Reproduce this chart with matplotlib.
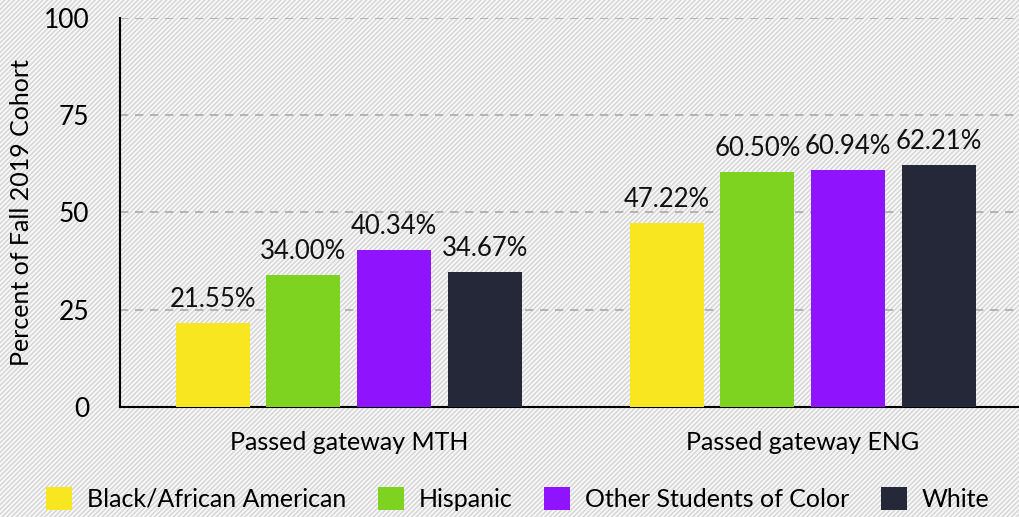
import matplotlib.pyplot as plt
import matplotlib.patches as mpatches
import numpy as np

plt.rcParams['font.family'] = ['Lato', 'DejaVu Sans']

groups = ['Passed gateway MTH', 'Passed gateway ENG']
series = ['Black/African American', 'Hispanic', 'Other Students of Color', 'White']
values = {
    'Black/African American': [21.55, 47.22],
    'Hispanic': [34.00, 60.50],
    'Other Students of Color': [40.34, 60.94],
    'White': [34.67, 62.21],
}
colors = ['#f8e620', '#7ed321', '#9013fe', '#252839']

fig = plt.figure(figsize=(10.19, 5.17), dpi=100)
fig.patch.set_facecolor('white')
plt.rcParams['hatch.color'] = '#d4d4d4'
plt.rcParams['hatch.linewidth'] = 1.0
bg = mpatches.Rectangle((0, 0), 1, 1, transform=fig.transFigure, facecolor='#f7f7f7',
                        edgecolor='#d4d4d4', hatch='///////', linewidth=0, zorder=-10)
fig.patches.append(bg)

ax = fig.add_axes([0.1178, 0.2128, 0.8822, 0.7524])
ax.set_facecolor('none')

x = np.arange(len(groups))
step = 0.2
width = 0.163
for i, s in enumerate(series):
    pos = x + (i - 1.5) * step
    bars = ax.bar(pos, values[s], width, color=colors[i], label=s, zorder=3)
    for b, v in zip(bars, values[s]):
        ax.text(b.get_x() + b.get_width() / 2, v + 2.8, f'{v:.2f}%',
                ha='center', va='bottom', fontsize=18.5, color='#111111', zorder=4)

ax.set_xlim(-0.504, 1.476)
ax.set_ylim(0, 100)
ax.set_yticks([0, 25, 50, 75, 100])
ax.set_xticks(x)
ax.set_xticklabels(groups, fontsize=18)
ax.tick_params(axis='y', labelsize=19, length=0, pad=22)
ax.tick_params(axis='x', length=0, pad=17)
ax.yaxis.grid(True, linestyle=(0, (5, 4)), color='#aaaaaa', linewidth=1.2, zorder=0)
ax.spines['top'].set_visible(False)
ax.spines['right'].set_visible(False)
ax.spines['left'].set_linewidth(1.5)
ax.spines['bottom'].set_linewidth(1.5)
ax.set_ylabel('Percent of Fall 2019 Cohort', fontsize=18, labelpad=8)

leg = fig.legend(loc='center', bbox_to_anchor=(0.508, 0.035), ncol=4, frameon=False,
                 fontsize=18, handlelength=1.05, handleheight=1.05, columnspacing=1.25,
                 handletextpad=0.6)

plt.savefig('out.png', dpi=100)
